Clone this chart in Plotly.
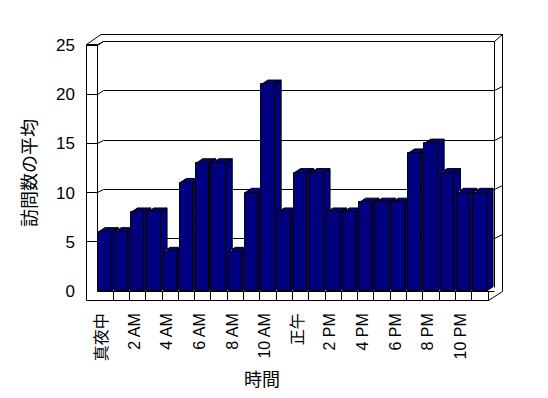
import plotly.graph_objects as go

# ---- data ----
categories = ["真夜中", "1 AM", "2 AM", "3 AM", "4 AM", "5 AM", "6 AM", "7 AM",
              "8 AM", "9 AM", "10 AM", "11 AM", "正午", "1 PM", "2 PM", "3 PM",
              "4 PM", "5 PM", "6 PM", "7 PM", "8 PM", "9 PM", "10 PM", "11 PM"]
values = [6, 6, 8, 8, 4, 11, 13, 13, 4, 10, 21, 8,
          12, 12, 8, 8, 9, 9, 9, 14, 15, 12, 10, 10]
shown_ticks = ["真夜中", "2 AM", "4 AM", "6 AM", "8 AM", "10 AM",
               "正午", "2 PM", "4 PM", "6 PM", "8 PM", "10 PM"]
y_ticks = [0, 5, 10, 15, 20, 25]
y_title = "訪問数の平均"
x_title = "時間"

# ---- layout geometry (pixels) ----
W, H = 548, 398
L, R, T, B = 80, 510, 30, 303          # plot area in pixels
X0PX, XSTEP = 105.0, 16.3              # pixel of category 0 centre, px per category
Y0PX, YSTEP = 291.0, 9.84              # pixel of value 0, px per unit

def X(px):
    return (px - X0PX) / XSTEP

def Y(py):
    return (Y0PX - py) / YSTEP

def PX(px):
    return (px - L) / (R - L)

def PY(py):
    return (B - py) / (B - T)

xr = [X(L), X(R)]
yr = [Y(B), Y(T)]

NAVY = "#000080"
bar_w = 13.3 / XSTEP
dx = 6.5 / XSTEP
dy = 4.3 / YSTEP
label_shift = -3.0 / XSTEP

idx = list(range(len(categories)))

# side + top faces (depth of the 3D columns), derived from values
fx, fy = [], []
for i, v in zip(idx, values):
    xl, xrr = i - bar_w / 2, i + bar_w / 2
    fx += [xrr, xrr, xrr + dx, xrr + dx, xrr, None]
    fy += [0, v, v + dy, dy, 0, None]
    fx += [xl, xrr, xrr + dx, xl + dx, xl, None]
    fy += [v, v, v + dy, v + dy, v, None]

fig = go.Figure()
fig.add_trace(go.Scatter(x=fx, y=fy, mode="lines", fill="toself",
                         fillcolor=NAVY, line=dict(color="black", width=1),
                         hoverinfo="skip", showlegend=False,
                         xaxis="x", yaxis="y"))
fig.add_trace(go.Bar(x=idx, y=values, width=bar_w, marker_color=NAVY,
                     marker_line=dict(color="black", width=1),
                     showlegend=False, xaxis="x2", yaxis="y2",
                     hovertext=categories))

# ---- frame (walls, floor, gridlines) ----
shapes = []
def line(x0, y0, x1, y1):
    shapes.append(dict(type="line", xref="x", yref="y",
                       x0=X(x0), y0=Y(y0), x1=X(x1), y1=Y(y1),
                       line=dict(color="black", width=1), layer="below"))

def snap(p):
    return int(p) + 0.5

def front(v):
    return snap(Y0PX - YSTEP * v)

def back(v):
    return snap(Y0PX - YSTEP * v - 3.4)

XO, XI, XB = 86.5, 97.5, 103.5     # left wall outer, inner, back-wall left
RO, RI = 502.5, 494.5              # right outer, right inner
TO = 34.5                           # top outer
FF, FB = 300.5, 291.5               # floor front, floor back

line(XO, 44.5, XO, FF)
line(XI, 44.5, XI, FB)
line(XO, 44.5, XI, 44.5)
line(XO, 44.5, 101, TO)
line(XI, 44.5, XB, back(25))
line(101, TO, RO, TO)
line(RO, TO, RO, FB)
line(RI, back(25), RO, TO)
line(RI, back(25), RI, back(0))
line(XO, FF, 488.5, FF)
line(488.5, FF, RO, FB)
line(XI, FB, RI, FB)
for v in y_ticks[1:]:
    line(XB, back(v), RI, back(v))
    line(XO, front(v), XI, front(v))
    line(XI, front(v), XB, back(v))
    if v < 25:
        line(RI, back(v), RO, back(v) - 4)
for i in range(len(categories)):
    px = snap(X0PX + XSTEP * (i + 0.5))
    line(px, FB, px, FF)

font_lat = "Liberation Sans, Arial, Noto Sans CJK JP, sans-serif"
font_cjk = "Noto Sans CJK JP, sans-serif"

fig.update_layout(
    width=W, height=H,
    margin=dict(l=L, r=W - R, t=T, b=H - B, pad=0),
    paper_bgcolor="white", plot_bgcolor="white",
    shapes=shapes,
    bargap=0,
    xaxis=dict(range=xr, showgrid=False, zeroline=False, showline=False,
               ticks="", tickvals=[i + label_shift for i in idx[::2]],
               ticktext=shown_ticks, tickangle=-90,
               tickfont=dict(family=font_lat, size=16, color="black"),
               ticklabelstandoff=6),
    yaxis=dict(range=yr, showgrid=False, zeroline=False, showline=False,
               ticks="", tickvals=y_ticks, ticktext=[str(v) for v in y_ticks],
               tickfont=dict(family=font_lat, size=17, color="black"),
               ticklabelstandoff=4),
    xaxis2=dict(range=xr, overlaying="x", visible=False),
    yaxis2=dict(range=yr, overlaying="y", visible=False),
    annotations=[
        dict(text=y_title, xref="paper", yref="paper", x=PX(28), y=PY(173),
             textangle=-90, showarrow=False, xanchor="center", yanchor="middle",
             font=dict(family=font_cjk, size=18, color="black")),
        dict(text=x_title, xref="paper", yref="paper", x=PX(262), y=PY(377.5),
             showarrow=False, xanchor="center", yanchor="middle",
             font=dict(family=font_cjk, size=18, color="black")),
    ],
)

fig.write_html("out.html")
